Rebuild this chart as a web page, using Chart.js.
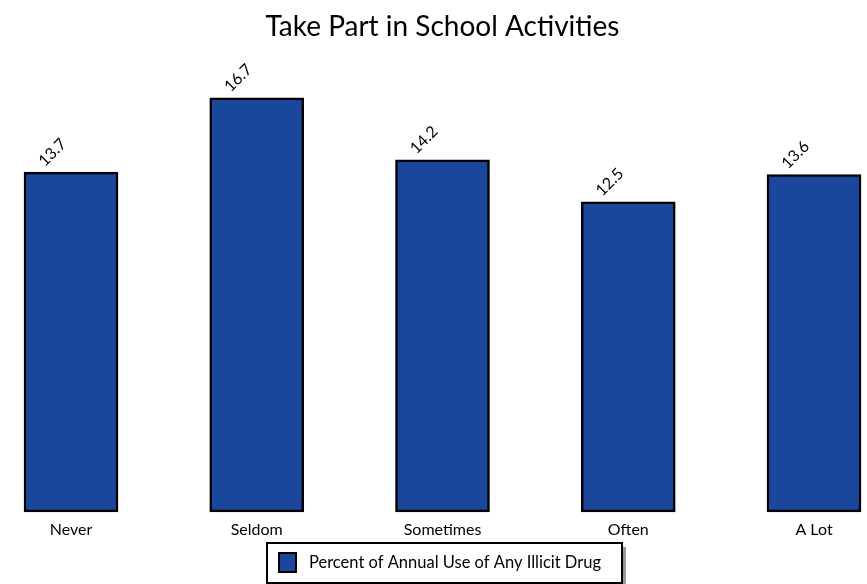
<!DOCTYPE html>
<html>
<head>
<meta charset="utf-8">
<script src="https://cdn.jsdelivr.net/npm/chart.js@4"></script>
<style>
  html, body { margin: 0; padding: 0; background: #fff; }
  #wrap { width: 867px; height: 584px; }
</style>
</head>
<body>
<div id="wrap"><canvas id="chart" width="867" height="584"></canvas></div>
<script>
const categories = ["Never", "Seldom", "Sometimes", "Often", "A Lot"];
const percentUse = [13.7, 16.7, 14.2, 12.5, 13.6];
const seriesLabel = "Percent of Annual Use of Any Illicit Drug";

const FONT = "Lato, 'DejaVu Sans', sans-serif";
const BAR_BLUE = "#1a479b";

// rotated value labels above each bar
const valueLabels = {
    id: "valueLabels",
    afterDatasetsDraw(chart) {
        const ctx = chart.ctx;
        const meta = chart.getDatasetMeta(0);
        ctx.save();
        ctx.fillStyle = "#000";
        ctx.font = "16px " + FONT;
        ctx.textAlign = "left";
        ctx.textBaseline = "alphabetic";
        meta.data.forEach((bar, i) => {
            ctx.save();
            ctx.translate(bar.x - 26, bar.y - 5);
            ctx.rotate(-Math.PI / 4);
            ctx.fillText(String(percentUse[i]), 0, 0);
            ctx.restore();
        });
        ctx.restore();
    },
};

// boxed legend with a drop shadow under the axis labels
const boxLegend = {
    id: "boxLegend",
    afterDraw(chart) {
        const ctx = chart.ctx;
        const label = chart.data.datasets[0].label;
        ctx.save();
        ctx.font = "16.5px " + FONT;
        const textW = ctx.measureText(label).width;
        const boxW = textW + 63;
        const boxH = 40;
        const x = Math.round((chart.width - boxW) / 2) + 11;
        const y = 543;
        ctx.fillStyle = "#9a9a9a";
        ctx.fillRect(x + 4, y + 4, boxW, boxH);
        ctx.fillStyle = "#fff";
        ctx.fillRect(x, y, boxW, boxH);
        ctx.lineWidth = 2;
        ctx.strokeStyle = "#000";
        ctx.strokeRect(x, y, boxW, boxH);
        ctx.fillStyle = BAR_BLUE;
        ctx.fillRect(x + 12, y + 10, 17, 19);
        ctx.strokeRect(x + 12, y + 10, 17, 19);
        ctx.fillStyle = "#000";
        ctx.textBaseline = "middle";
        ctx.fillText(label, x + 42, y + 20);
        ctx.restore();
    },
};

new Chart(document.getElementById("chart").getContext("2d"), {
    type: "bar",
    data: {
        labels: categories,
        datasets: [
            {
                label: seriesLabel,
                data: percentUse,
                backgroundColor: BAR_BLUE,
                borderColor: "#000",
                borderWidth: 2.5,
                borderSkipped: false,
                barThickness: 94,
                clip: false,
            },
        ],
    },
    options: {
        responsive: false,
        animation: false,
        layout: {
            padding: { left: 71, right: 53, top: 0, bottom: 37 },
        },
        plugins: {
            legend: { display: false },
            tooltip: { enabled: false },
            title: {
                display: true,
                text: "Take Part in School Activities",
                color: "#000",
                font: { family: FONT, size: 28, weight: "normal" },
                padding: { top: 10, bottom: 22 },
            },
        },
        scales: {
            x: {
                offset: false,
                grid: { display: false, drawTicks: false },
                border: { display: false },
                ticks: {
                    color: "#000",
                    font: { family: FONT, size: 16 },
                    padding: 8,
                    maxRotation: 0,
                    autoSkip: false,
                },
            },
            y: {
                display: false,
                min: 0,
                max: 18,
            },
        },
    },
    plugins: [valueLabels, boxLegend],
});
</script>
</body>
</html>
